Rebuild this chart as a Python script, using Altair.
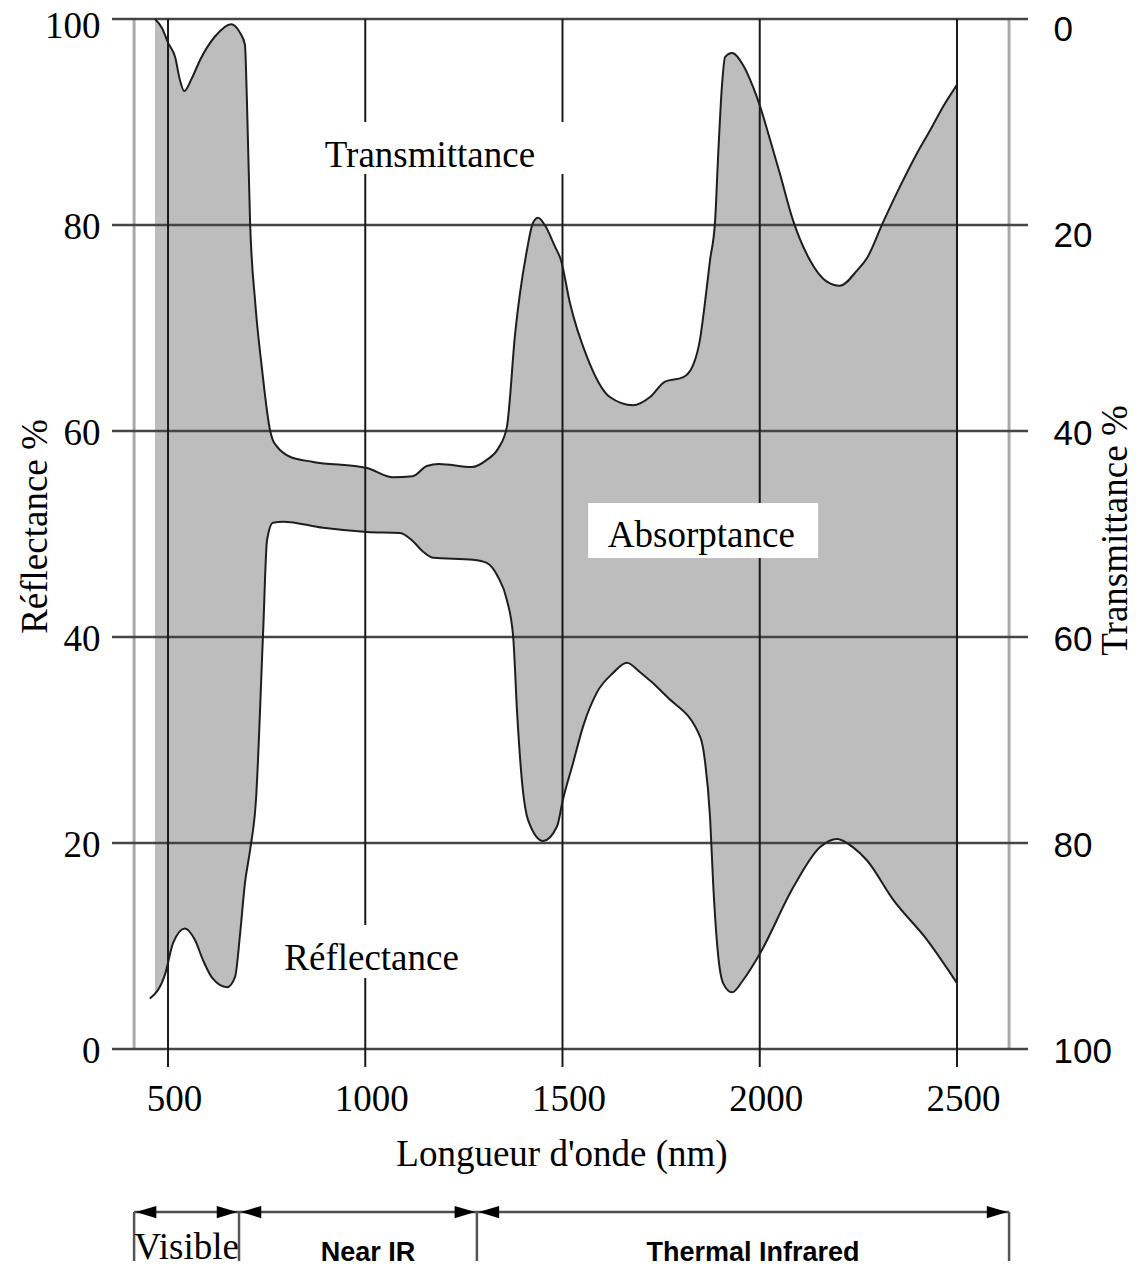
import altair as alt
import pandas as pd

# ---------------- data ----------------
# upper boundary of the grey band (100 - transmittance), in % of the left scale
upper_nm = [467, 485, 500, 518, 530, 541, 561, 581, 619, 660, 682, 695, 700, 708,
            721, 738, 759, 766, 776, 809, 868, 1004, 1070, 1120, 1156, 1187, 1270,
            1308, 1337, 1359, 1380, 1410, 1425, 1438, 1455, 1481, 1496, 1519, 1562,
            1620, 1679, 1722, 1760, 1805, 1831, 1849, 1858, 1874, 1887, 1894, 1904, 1912,
            1930, 1958, 1983, 2001, 2026, 2051, 2084, 2127, 2170, 2203, 2247, 2272, 2313,
            2355, 2399, 2432, 2465, 2500]
upper_val = [100.0, 99.1, 97.7, 96.3, 94.1, 93.0, 94.3, 96.0, 98.3, 99.5, 98.7, 97.5, 92.1, 80.3,
             72.5, 66.1, 60.0, 59.1, 58.5, 57.5, 57.0, 56.4, 55.5, 55.6, 56.6, 56.8, 56.5,
             57.2, 58.3, 60.4, 69.5, 77.6, 80.2, 80.7, 80.0, 77.9, 76.6, 72.4, 67.2,
             63.3, 62.5, 63.3, 64.8, 65.2, 66.4, 69.0, 71.5, 76.6, 80.5, 86.3, 93.4, 96.3,
             96.7, 95.5, 93.4, 91.5, 88.3, 85.0, 80.5, 76.6, 74.5, 74.1, 75.6, 76.8, 80.3,
             83.7, 87.0, 89.2, 91.5, 93.6]

# lower boundary of the grey band (reflectance)
lower_nm = [454, 492, 513, 543, 568, 589, 612, 650, 670, 683, 695, 708, 723, 741, 751,
            766, 792, 893, 1004, 1088, 1121, 1146, 1172, 1273, 1308, 1337, 1359, 1375,
            1385, 1397, 1413, 1451, 1486, 1501, 1527, 1552, 1587, 1628, 1663, 1696, 1765,
            1849, 1861, 1874, 1882, 1894, 1907, 1930, 1958, 2001, 2085, 2153, 2196, 2236,
            2272, 2338, 2424, 2500]
lower_val = [4.9, 7.2, 10.3, 11.7, 10.6, 8.6, 6.9, 6.0, 7.0, 11.3, 16.1, 19.3, 24.2, 40.4, 49.4,
             51.1, 51.2, 50.6, 50.2, 50.1, 49.3, 48.3, 47.7, 47.5, 47.2, 45.8, 43.6, 40.0,
             32.6, 26.1, 22.2, 20.2, 21.6, 24.2, 27.8, 31.3, 34.6, 36.5, 37.5, 36.6, 34.2,
             30.3, 28.0, 22.5, 16.0, 9.3, 6.4, 5.5, 6.7, 9.3, 15.7, 19.6, 20.4, 19.6,
             18.3, 14.5, 10.6, 6.4]

grid_x = [500, 1000, 1500, 2000, 2500]
grid_y = [0, 20, 40, 60, 80, 100]
frame_x = [414, 2632]
band_edges = [414, 680, 1283, 2632]
band_names = ["Visible", "Near IR", "Thermal Infrared"]

# ---------------- layout ----------------
W, H = 916, 1230
XMIN, XMAX = 358, 2680
YMIN = 100 - H / 10.3
SERIF = "Liberation Serif"
SANS = "Liberation Sans"

X = alt.Scale(domain=[XMIN, XMAX], nice=False, zero=False)
Y = alt.Scale(domain=[YMIN, 100], nice=False, zero=False)

upper = pd.DataFrame({"nm": upper_nm, "v": upper_val})
lower = pd.DataFrame({"nm": lower_nm, "v": lower_val})
one = pd.DataFrame({"k": [0]})


def xf(field="nm"):
    return alt.X(f"{field}:Q", scale=X, axis=None)


def yf(field="v"):
    return alt.Y(f"{field}:Q", scale=Y, axis=None)


def xd(v):
    return alt.XDatum(v, axis=None, scale=X)


def yd(v):
    return alt.YDatum(v, axis=None, scale=Y)


area_u = alt.Chart(upper).mark_area(interpolate="monotone", color="#bdbdbd").encode(
    x=xf(), y=yf(), y2=alt.datum(0))
area_l = alt.Chart(lower).mark_area(interpolate="monotone", color="white").encode(
    x=xf(), y=yf(), y2=alt.datum(0))

frame = alt.Chart(pd.DataFrame({"x": frame_x})).mark_rule(color="#a9a9a9", strokeWidth=3).encode(
    x=xf("x"), y=yd(0), y2=alt.datum(100))

hgrid = alt.Chart(pd.DataFrame({"v": grid_y})).mark_rule(color="#454545", strokeWidth=2.5).encode(
    y=yf("v"), x=xd(XMIN), x2=alt.datum(XMAX))

vgrid = alt.Chart(pd.DataFrame({"x": grid_x})).mark_rule(color="#1a1a1a", strokeWidth=2).encode(
    x=xf("x"), y=yd(-1.75), y2=alt.datum(100))

line_u = alt.Chart(upper).mark_line(interpolate="monotone", color="#1e1e1e", strokeWidth=2).encode(
    x=xf(), y=yf())
line_l = alt.Chart(lower).mark_line(interpolate="monotone", color="#1e1e1e", strokeWidth=2).encode(
    x=xf(), y=yf())


def box(x0, x1, y0, y1):
    return alt.Chart(one).mark_rect(color="white").encode(
        x=xd(x0), x2=alt.datum(x1), y=yd(y0), y2=alt.datum(y1))


def label(text, x, y, font=SERIF, size=37, weight="normal"):
    return alt.Chart(one).mark_text(text=text, font=font, fontSize=size, fontWeight=weight,
                                    color="black", align="center", baseline="alphabetic").encode(
        x=xd(x), y=yd(y))


boxes = [box(835, 1532, 84.95, 90.0), box(771, 1266, 6.89, 12.04), box(1565, 2148, 47.67, 53.0)]
labels = [label("Transmittance", 1164, 85.6), label("Réflectance", 1016, 7.67),
          label("Absorptance", 1852, 48.7)]

# bottom band with spectral regions
BAND_Y = -15.83
ARROW_L = "M-1,0L1,-0.6L1,0.6Z"
ARROW_R = "M1,0L-1,-0.6L-1,0.6Z"
band_h = alt.Chart(one).mark_rule(color="#4d4d4d", strokeWidth=2.5).encode(
    x=xd(band_edges[0]), x2=alt.datum(band_edges[-1]), y=yd(BAND_Y))
band_v = alt.Chart(pd.DataFrame({"x": band_edges})).mark_rule(color="#555555", strokeWidth=2.5).encode(
    x=xf("x"), y=yd(BAND_Y), y2=alt.datum(-22))
arr_l = alt.Chart(pd.DataFrame({"x": band_edges[:-1]})).mark_point(
    shape=ARROW_L, filled=True, size=420, color="black", opacity=1, xOffset=12).encode(
    x=xf("x"), y=yd(BAND_Y))
arr_r = alt.Chart(pd.DataFrame({"x": band_edges[1:]})).mark_point(
    shape=ARROW_R, filled=True, size=420, color="black", opacity=1, xOffset=-12).encode(
    x=xf("x"), y=yd(BAND_Y))

mids = [(a + b) / 2 for a, b in zip(band_edges[:-1], band_edges[1:])]
band_df = pd.DataFrame({"name": band_names, "mid": mids})
vis_txt = alt.Chart(band_df.iloc[:1]).mark_text(font=SERIF, fontSize=37, color="black",
                                                 align="center", baseline="alphabetic").encode(
    x=xf("mid"), y=yd(-20.4), text="name:N")
ir_txt = alt.Chart(band_df.iloc[1:]).mark_text(font=SANS, fontSize=27, fontWeight="bold", color="black",
                                                align="center", baseline="alphabetic", dx=10).encode(
    x=xf("mid"), y=yd(-20.6), text="name:N")

main = alt.layer(area_u, area_l, frame, hgrid, vgrid, line_u, line_l, *boxes, *labels,
                 band_h, band_v, arr_l, arr_r, vis_txt, ir_txt)

# ---------------- axes (own layers, same scales) ----------------
axis_b = alt.Chart(pd.DataFrame({"x": grid_x})).mark_rule(opacity=0).encode(
    x=alt.X("x:Q", scale=X, axis=alt.Axis(
        orient="bottom", values=grid_x, format="d", title="Longueur d'onde (nm)", offset=-200,
        domain=False, ticks=False, grid=False, labelFlush=False,
        labelFont=SERIF, labelFontSize=37, labelColor="black", labelPadding=32, labelOffset=6,
        titleFont=SERIF, titleFontSize=37, titleFontWeight="normal", titleColor="black",
        titleX=449.5, titleY=116, titleAlign="center", titleBaseline="alphabetic")))

axis_l = alt.Chart(pd.DataFrame({"v": grid_y})).mark_rule(opacity=0).encode(
    y=alt.Y("v:Q", scale=Y, axis=alt.Axis(
        orient="left", values=grid_y, title="Réflectance %", domain=False, ticks=False, grid=False,
        labelFont=SERIF, labelFontSize=37, labelColor="black", labelPadding=12,
        labelOffset={"condition": {"test": "datum.value == 100", "value": 7}, "value": 2},
        titleFont=SERIF, titleFontSize=37, titleFontWeight="normal", titleColor="black",
        titleAngle=270, titleX=-77, titleY=507, titleAlign="center", titleBaseline="middle")))

axis_r = alt.Chart(pd.DataFrame({"v": grid_y})).mark_rule(opacity=0).encode(
    y=alt.Y("v:Q", scale=Y, axis=alt.Axis(
        orient="right", values=grid_y, labelExpr="100 - datum.value", title="Transmittance %",
        domain=False, ticks=False, grid=False,
        labelFont=SANS, labelFontSize=35, labelColor="black", labelPadding=25,
        labelOffset={"condition": {"test": "datum.value >= 80", "value": 10}, "value": 2},
        titleFont=SERIF, titleFontSize=37, titleFontWeight="normal", titleColor="black",
        titleAngle=270, titleX=98, titleY=511, titleAlign="center", titleBaseline="alphabetic")))

chart = alt.layer(main, axis_b, axis_l, axis_r).resolve_scale(
    x="independent", y="independent").properties(
    width=W, height=H,
    autosize=alt.AutoSizeParams(type="none"),
    padding={"left": 104, "top": 11, "right": 106, "bottom": 12},
).configure_view(stroke=None)

chart.save("out.html", embed_options={"renderer": "svg", "actions": False})
